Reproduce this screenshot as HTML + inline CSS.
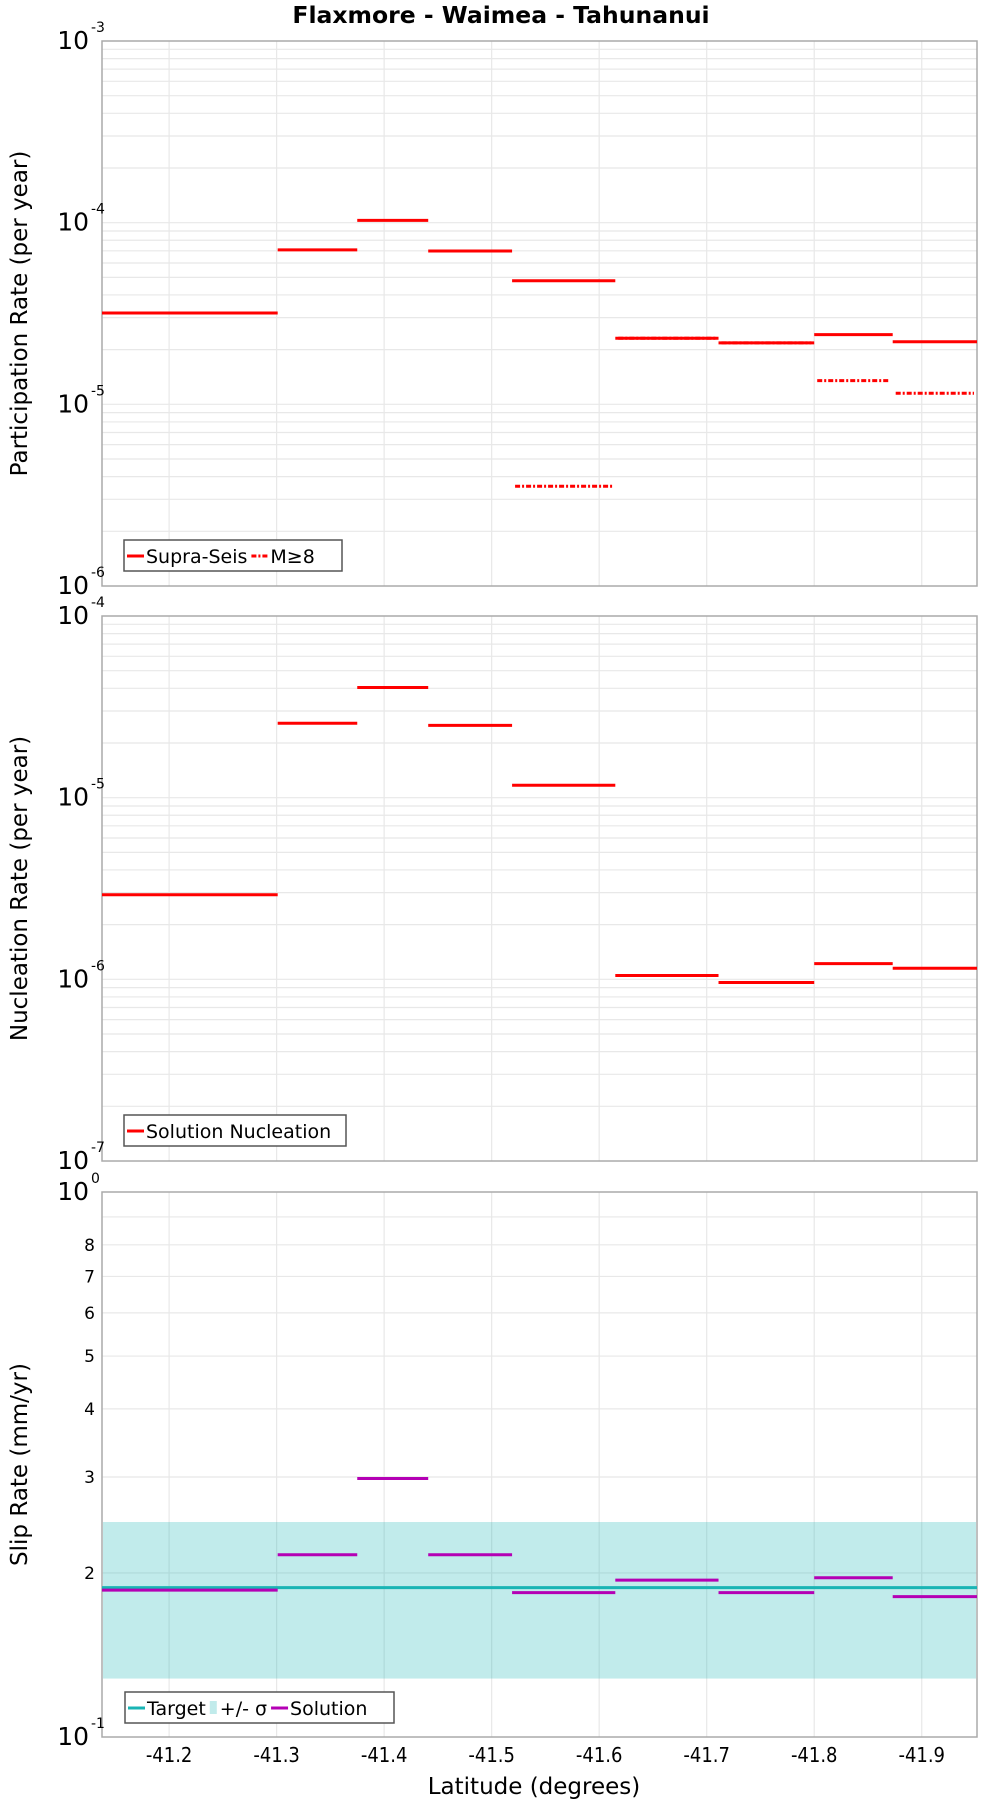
<!DOCTYPE html>
<html><head><meta charset="utf-8">
<style>
html,body{margin:0;padding:0;background:#fff;}
svg{display:block;font-family:"DejaVu Sans","Liberation Sans",sans-serif;}
</style></head>
<body>
<svg id="chart" width="1000" height="1800" viewBox="0 0 1000 1800" xmlns="http://www.w3.org/2000/svg">
<text x="501" y="23" text-anchor="middle" font-size="23.5" font-weight="bold">Flaxmore - Waimea - Tahunanui</text>
<text x="534" y="1794" text-anchor="middle" font-size="23">Latitude (degrees)</text>
</svg>
<script>
// ---- data ----
const latEdges = [-41.1376, -41.301, -41.375, -41.441, -41.519, -41.615, -41.711, -41.800, -41.873, -41.9514];
const supraSeis = [3.18e-5, 7.08e-5, 1.03e-4, 6.98e-5, 4.79e-5, 2.31e-5, 2.18e-5, 2.42e-5, 2.21e-5];
const m8Lat0 = [-41.519, -41.615, -41.711, -41.800, -41.873];
const m8Lat1 = [-41.615, -41.711, -41.800, -41.873, -41.9514];
const m8Rates = [3.54e-6, 2.31e-5, 2.18e-5, 1.35e-5, 1.15e-5];
const nucleation = [2.92e-6, 2.57e-5, 4.04e-5, 2.5e-5, 1.17e-5, 1.05e-6, 9.6e-7, 1.22e-6, 1.15e-6];
const slipSolution = [1.86, 2.16, 2.98, 2.16, 1.84, 1.94, 1.84, 1.96, 1.81];
const slipTarget = [1.88];
const slipSigmaLow = [1.28];
const slipSigmaHigh = [2.48];
const xTicks = [-41.2, -41.3, -41.4, -41.5, -41.6, -41.7, -41.8, -41.9];
const xTickLabels = ["-41.2", "-41.3", "-41.4", "-41.5", "-41.6", "-41.7", "-41.8", "-41.9"];
const slipTicks = [8, 7, 6, 5, 4, 3, 2];
const slipTickLabels = ["8", "7", "6", "5", "4", "3", "2"];

// ---- layout ----
const NS = "http://www.w3.org/2000/svg";
const svg = document.getElementById("chart");
const L = 102, R = 977;
const latMin = -41.1376, latMax = -41.9514;
function xS(lat){ return L + (lat - latMin) / (latMax - latMin) * (R - L); }
function mk(tag, attrs, parent){ const e = document.createElementNS(NS, tag); for (const k in attrs) e.setAttribute(k, attrs[k]); (parent || svg).appendChild(e); return e; }

const panels = [
  {top: 41, bot: 586, lo: -6, hi: -3, name: "participation"},
  {top: 616, bot: 1161, lo: -7, hi: -4, name: "nucleation"},
  {top: 1192, bot: 1737, lo: 0, hi: 1, name: "slip"}
];
function yS(p, v){ return p.bot - (Math.log10(v) - p.lo) / (p.hi - p.lo) * (p.bot - p.top); }

function decadeLabel(g, y, exp){
  const t = mk("text", {x: 89, y: y + 8, "text-anchor": "end", "font-size": 25}, g);
  t.textContent = "10";
  
  
  const s = mk("text", {x: 91, y: y - 9, "font-size": 14}, g);
  s.textContent = exp;
  
  
}

panels.forEach(function(p, pi){
  const g = mk("g", {});
  
  
  for (let d = p.lo; d < p.hi; d++) {
    for (let m = 1; m <= 9; m++) {
      if (m === 1 && d === p.lo) continue;
      const y = yS(p, m * Math.pow(10, d));
      const ln = mk("line", {x1: L, x2: R, y1: y, y2: y, stroke: "#e8e8e8", "stroke-width": 1.2}, g);
      
      
    }
  }
  xTicks.forEach(function(t){
    const ln = mk("line", {x1: xS(t), x2: xS(t), y1: p.top, y2: p.bot, stroke: "#e8e8e8", "stroke-width": 1.2}, g);
    
    
  });
  const fr = mk("rect", {x: L, y: p.top, width: R - L, height: p.bot - p.top, fill: "none", stroke: "#aaaaaa", "stroke-width": 1.5}, g);
  
  
  if (pi === 2) {
    decadeLabel(g, p.top, "0");
    decadeLabel(g, p.bot, "-1");
  } else {
    for (let d = p.lo; d <= p.hi; d++) decadeLabel(g, yS(p, Math.pow(10, d)), String(d));
  }
});

const yTitles = [["Participation Rate (per year)", panels[0]], ["Nucleation Rate (per year)", panels[1]], ["Slip Rate (mm/yr)", panels[2]]];
yTitles.forEach(function(yt){
  const cy = (yt[1].top + yt[1].bot) / 2;
  const t = mk("text", {x: 0, y: 0, "text-anchor": "middle", "font-size": 23, transform: "translate(27," + cy + ") rotate(-90)"});
  t.textContent = yt[0];
  
  
});

xTicks.forEach(function(t, i){
  const tx = mk("text", {x: xS(t), y: 1762, "text-anchor": "middle", "font-size": 20, "font-family": "DejaVu Sans Condensed, DejaVu Sans, sans-serif"});
  tx.textContent = xTickLabels[i];
  
  
});

slipTicks.forEach(function(v, i){
  const tx = mk("text", {x: 95, y: yS(panels[2], v) + 6, "text-anchor": "end", "font-size": 17});
  tx.textContent = slipTickLabels[i];
  
  
});

supraSeis.forEach(function(v, i){
  const y = yS(panels[0], v);
  const ln = mk("line", {x1: xS(latEdges[i]), x2: xS(latEdges[i + 1]), y1: y, y2: y, stroke: "#ff0000", "stroke-width": 3});
  
  
});
m8Rates.forEach(function(v, i){
  const y = yS(panels[0], v);
  const ln = mk("line", {x1: xS(m8Lat0[i]) + 3, x2: xS(m8Lat1[i]) - 3, y1: y, y2: y, stroke: "#ff0000", "stroke-width": 3, "stroke-dasharray": "5,2,2,2"});
  
  
});
nucleation.forEach(function(v, i){
  const y = yS(panels[1], v);
  const ln = mk("line", {x1: xS(latEdges[i]), x2: xS(latEdges[i + 1]), y1: y, y2: y, stroke: "#ff0000", "stroke-width": 3});
  
  
});
const band = mk("rect", {x: L + 1, y: yS(panels[2], slipSigmaHigh[0]), width: R - L - 2, height: yS(panels[2], slipSigmaLow[0]) - yS(panels[2], slipSigmaHigh[0]), fill: "#19b4b4", "fill-opacity": 0.27});


const ty = yS(panels[2], slipTarget[0]);
const tl = mk("line", {x1: L, x2: R, y1: ty, y2: ty, stroke: "#19b4b4", "stroke-width": 3});


slipSolution.forEach(function(v, i){
  const y = yS(panels[2], v);
  const ln = mk("line", {x1: xS(latEdges[i]), x2: xS(latEdges[i + 1]), y1: y, y2: y, stroke: "#b400b4", "stroke-width": 3});
  
  
});

function legend(x, y, w, items, name){
  const g = mk("g", {});
  
  
  mk("rect", {x: x, y: y, width: w, height: 31, fill: "#fff", stroke: "#555", "stroke-width": 1.5}, g);
  let cx = x + 3;
  items.forEach(function(it){
    if (it.type === "band") {
      mk("rect", {x: cx, y: y + 9, width: 7, height: 13, fill: "#19b4b4", "fill-opacity": 0.27}, g);
      cx += 10;
    } else {
      const a = {x1: cx, x2: cx + 17, y1: y + 16, y2: y + 16, stroke: it.color, "stroke-width": 3};
      if (it.dash) a["stroke-dasharray"] = "5,2,2,2";
      mk("line", a, g);
      cx += 19;
    }
    const t = mk("text", {x: cx, y: y + 23, "font-size": 19}, g);
    t.textContent = it.label;
    
    
    cx += t.getComputedTextLength() + 4;
  });
}
legend(124, 540, 218, [{color: "#ff0000", label: "Supra-Seis"}, {color: "#ff0000", dash: true, label: "M≥8"}], "legend-participation");
legend(124, 1115, 222, [{color: "#ff0000", label: "Solution Nucleation"}], "legend-nucleation");
legend(125, 1692, 269, [{color: "#19b4b4", label: "Target"}, {type: "band", label: "+/- σ"}, {color: "#b400b4", label: "Solution"}], "legend-slip");
</script>
</body></html>
